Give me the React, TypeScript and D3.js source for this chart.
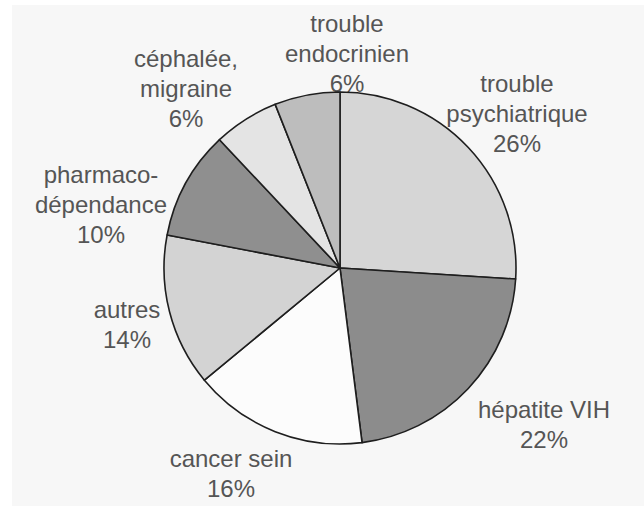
import React, { useRef, useEffect } from 'react';
import * as d3 from 'd3';

// slices clockwise from 12 o'clock
const categories = [
  'trouble psychiatrique',
  'hépatite VIH',
  'cancer sein',
  'autres',
  'pharmacodépendance',
  'céphalée, migraine',
  'trouble endocrinien',
];
const values = [26, 22, 16, 14, 10, 6, 6];
const fills = ['#d6d6d6', '#8c8c8c', '#fcfcfc', '#d3d3d3', '#8f8f8f', '#e4e4e4', '#bdbdbd'];

// label lines as printed
const labelLines = [
  ['trouble', 'psychiatrique', '26%'],
  ['hépatite VIH', '22%'],
  ['cancer sein', '16%'],
  ['autres', '14%'],
  ['pharmaco-', 'dépendance', '10%'],
  ['céphalée,', 'migraine', '6%'],
  ['trouble', 'endocrinien', '6%'],
];
// label anchor (center x, first baseline y)
const labelPos: [number, number][] = [
  [517, 92],
  [544, 418],
  [231, 467],
  [127, 318],
  [101, 183],
  [186, 67],
  [347, 32],
];

const W = 644;
const H = 515;

const App: React.FC = () => {
  const ref = useRef<SVGSVGElement | null>(null);

  useEffect(() => {
    if (!ref.current) return;
    const svg = d3.select(ref.current);
    svg.selectAll('*').remove();

    const cx = 340;
    const cy = 268;
    const radius = 176;

    svg.append('rect').attr('width', W).attr('height', H).attr('fill', '#ffffff');
    svg.append('rect')
      .attr('x', 12).attr('y', 5)
      .attr('width', W - 12).attr('height', 501)
      .attr('fill', '#f7f7f7');

    // labels first: the pie overlaps the top "6%"
    const lg = svg.append('g')
      .attr('font-family', '"Liberation Sans", Arial, sans-serif')
      .attr('font-size', 24)
      .attr('fill', '#555555')
      .attr('text-anchor', 'middle');

    labelLines.forEach((lines, i) => {
      const [x, y] = labelPos[i];
      const t = lg.append('text').attr('x', x).attr('y', y);
      lines.forEach((line, j) => {
        t.append('tspan').attr('x', x).attr('dy', j === 0 ? 0 : 30).text(line);
      });
    });

    const pie = d3.pie<number>().sort(null).value(d => d);
    const arc = d3.arc<d3.PieArcDatum<number>>().innerRadius(0).outerRadius(radius);

    svg.append('g')
      .attr('transform', `translate(${cx},${cy})`)
      .selectAll('path')
      .data(pie(values))
      .join('path')
      .attr('d', arc)
      .attr('fill', (_, i) => fills[i])
      .attr('stroke', '#1e1e1e')
      .attr('stroke-width', 1.6)
      .attr('stroke-linejoin', 'round');
  }, []);

  return (
    <div style={{ position: 'absolute', left: 0, top: 0 }}>
      <svg ref={ref} width={W} height={H} />
    </div>
  );
};

export default App;
